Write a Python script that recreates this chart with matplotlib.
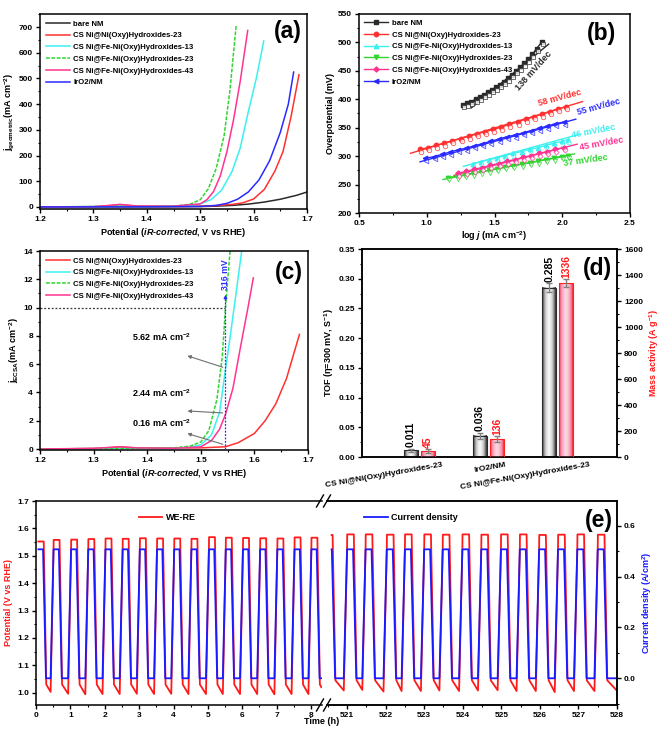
import numpy as np
import matplotlib
matplotlib.use('Agg')
import matplotlib.pyplot as plt
from matplotlib.colors import LinearSegmentedColormap
from matplotlib.patches import Rectangle
from matplotlib.lines import Line2D
from matplotlib.ticker import MultipleLocator, FormatStrFormatter
import matplotlib.transforms as mtransforms

# ---------------- (a) LSV, geometric current density ----------------
a_bare_V = [1.20, 1.30, 1.40, 1.45, 1.50, 1.53, 1.56, 1.59, 1.62, 1.65, 1.68, 1.70]
a_bare_j = [0, 0.3, 0.6, 1.0, 1.5, 3, 6, 11, 19, 30, 45, 58]
a_nini_V = [1.20, 1.30, 1.33, 1.35, 1.37, 1.40, 1.45, 1.50, 1.53, 1.56, 1.58, 1.60, 1.62, 1.64, 1.655, 1.67, 1.685]
a_nini_j = [0, 1, 5, 9, 5, 2, 2, 3, 5, 10, 16, 31, 68, 140, 215, 350, 515]
a_fe13_V = [1.20, 1.33, 1.35, 1.40, 1.48, 1.50, 1.52, 1.54, 1.56, 1.575, 1.59, 1.605, 1.619]
a_fe13_j = [0, 2, 3, 2, 5, 12, 28, 65, 140, 230, 370, 500, 646]
a_fe23_V = [1.20, 1.33, 1.35, 1.40, 1.45, 1.48, 1.50, 1.515, 1.53, 1.545, 1.556, 1.5675]
a_fe23_j = [0, 2, 3, 2, 3, 10, 28, 70, 150, 280, 460, 710]
a_fe43_V = [1.20, 1.30, 1.33, 1.35, 1.38, 1.45, 1.50, 1.5125, 1.525, 1.5375, 1.55, 1.5625, 1.575, 1.589]
a_fe43_j = [0, 1, 6, 10, 4, 3, 12, 28, 60, 120, 215, 340, 490, 687]
a_iro2_V = [1.20, 1.40, 1.50, 1.53, 1.55, 1.57, 1.59, 1.61, 1.63, 1.65, 1.665, 1.675]
a_iro2_j = [0, 0.5, 2, 6, 14, 30, 58, 105, 180, 290, 400, 525]

# ---------------- (b) Tafel ----------------
b_bare_x = [1.27, 1.30, 1.33, 1.36, 1.39, 1.42, 1.45, 1.48, 1.51, 1.54, 1.57, 1.60, 1.63, 1.66, 1.69, 1.72, 1.75, 1.78, 1.81, 1.85]
b_bare_y = [390, 393, 396, 400, 404, 408, 412, 417, 421, 426, 431, 437, 443, 450, 456, 463, 470, 479, 489, 501]
b_nini_x = [0.95, 1.01, 1.07, 1.13, 1.19, 1.25, 1.31, 1.37, 1.43, 1.49, 1.55, 1.61, 1.67, 1.73, 1.79, 1.85, 1.91, 1.97, 2.03]
b_nini_y = [312, 315, 319, 323, 327, 331, 335, 339, 343, 347, 351, 356, 360, 365, 369, 374, 378, 383, 387]
b_fe13_x = [1.34, 1.40, 1.46, 1.52, 1.58, 1.64, 1.70, 1.76, 1.82, 1.88, 1.94, 2.00, 2.04]
b_fe13_y = [287, 290, 294, 297, 301, 305, 308, 312, 315, 319, 323, 326, 329]
b_fe23_x = [1.16, 1.22, 1.28, 1.34, 1.40, 1.46, 1.52, 1.58, 1.64, 1.70, 1.76, 1.82, 1.88, 1.94, 2.00, 2.04]
b_fe23_y = [262, 265, 267, 270, 273, 275, 278, 281, 283, 286, 288, 291, 294, 296, 299, 301]
b_fe43_x = [1.23, 1.29, 1.35, 1.41, 1.47, 1.53, 1.59, 1.65, 1.71, 1.77, 1.83, 1.89, 1.95, 2.01]
b_fe43_y = [270, 273, 277, 280, 284, 287, 291, 294, 298, 301, 305, 308, 312, 315]
b_iro2_x = [0.99, 1.05, 1.11, 1.17, 1.23, 1.29, 1.35, 1.41, 1.47, 1.53, 1.59, 1.65, 1.71, 1.77, 1.83, 1.89, 1.95, 2.01]
b_iro2_y = [296, 299, 303, 307, 311, 314, 318, 322, 326, 330, 334, 337, 341, 345, 349, 353, 357, 360]
# fitted lines (end points)
b_fit_bare = ([1.33, 1.90], [385, 497])
b_fit_nini = ([0.88, 2.15], [305, 396])
b_fit_fe13 = ([1.27, 2.12], [282, 338])
b_fit_fe23 = ([1.12, 2.09], [259, 304])
b_fit_fe43 = ([1.20, 2.11], [266, 321])
b_fit_iro2 = ([0.95, 2.10], [290, 365])
b_slopes = ['138 mV/dec', '58 mV/dec', '55 mV/dec', '46 mV/dec', '45 mV/dec', '37 mV/dec']

# ---------------- (c) LSV, ECSA normalised ----------------
c_nini_V = [1.20, 1.30, 1.33, 1.35, 1.37, 1.40, 1.50, 1.546, 1.57, 1.60, 1.62, 1.64, 1.66, 1.684]
c_nini_j = [0.0, 0.03, 0.10, 0.16, 0.10, 0.06, 0.08, 0.16, 0.45, 1.1, 2.0, 3.2, 5.0, 8.1]
c_fe13_V = [1.20, 1.35, 1.45, 1.48, 1.50, 1.52, 1.535, 1.546, 1.555, 1.565, 1.577]
c_fe13_j = [0.0, 0.05, 0.05, 0.12, 0.3, 1.0, 2.6, 5.62, 8.0, 10.8, 14.2]
c_fe23_V = [1.20, 1.35, 1.45, 1.48, 1.50, 1.515, 1.53, 1.54, 1.546, 1.555]
c_fe23_j = [0.0, 0.05, 0.08, 0.2, 0.5, 1.3, 3.5, 6.5, 10.0, 14.2]
c_fe43_V = [1.20, 1.30, 1.35, 1.38, 1.45, 1.50, 1.52, 1.535, 1.546, 1.56, 1.575, 1.588, 1.598]
c_fe43_j = [0.0, 0.05, 0.15, 0.08, 0.05, 0.15, 0.6, 1.4, 2.44, 4.3, 7.4, 10.0, 12.1]
c_eta_V = 1.546
c_marks = [5.62, 2.44, 0.16]

# ---------------- (d) TOF / mass activity ----------------
d_categories = ['CS Ni@Ni(Oxy)Hydroxides-23', 'IrO2/NM', 'CS Ni@Fe-Ni(Oxy)Hydroxides-23']
d_tof = [0.011, 0.036, 0.285]
d_tof_err = [0.003, 0.005, 0.007]
d_mass = [45, 136, 1336]
d_mass_err = [15, 22, 32]

# ---------------- (e) stability, cycle data ----------------
e_left_starts = [0.05, 0.51, 1.02, 1.52, 2.02, 2.52, 3.02, 3.52, 4.02, 4.52, 5.03, 5.52, 6.02, 6.52, 7.02, 7.52, 8.01]
e_left_peaks = [1.552, 1.558, 1.559, 1.561, 1.563, 1.562, 1.564, 1.563, 1.563, 1.562, 1.568, 1.566, 1.565, 1.564, 1.563, 1.567, 1.566]
e_left_mins = [1.0, 1.003, 0.996, 0.994, 0.995, 0.995, 0.996, 0.995, 0.996, 0.995, 0.995, 0.995, 0.995, 0.995, 0.994, 0.995, 0.995, 1.02]
e_right_starts = [520.45, 521.0, 521.48, 522.03, 522.5, 523.0, 523.48, 523.99, 524.48, 524.99, 525.48, 525.98, 526.47, 526.97, 527.5]
e_right_peaks = [1.576, 1.578, 1.578, 1.577, 1.578, 1.578, 1.577, 1.578, 1.577, 1.578, 1.578, 1.576, 1.577, 1.578, 1.577]
e_right_mins = [1.01, 1.008, 1.01, 1.004, 1.006, 1.006, 1.008, 1.006, 1.008, 1.009, 1.006, 1.006, 1.002, 1.006, 1.006, 1.007]
e_i_high = 0.507

# ---------------- style ----------------
plt.rcParams.update({
    'font.family': ['Liberation Sans', 'DejaVu Sans'],
    'font.weight': 'bold', 'font.size': 6,
    'axes.labelweight': 'bold', 'axes.linewidth': 1.1, 'axes.labelsize': 6.5,
    'mathtext.fontset': 'custom', 'mathtext.rm': 'Liberation Sans:bold',
    'mathtext.it': 'Liberation Sans:italic:bold', 'mathtext.bf': 'Liberation Sans:bold',
    'mathtext.default': 'rm',
    'xtick.direction': 'out', 'ytick.direction': 'out',
    'xtick.major.size': 3, 'ytick.major.size': 3, 'xtick.minor.size': 1.6, 'ytick.minor.size': 1.6,
    'xtick.major.width': 1, 'ytick.major.width': 1, 'xtick.minor.width': 0.8, 'ytick.minor.width': 0.8,
    'xtick.labelsize': 6, 'ytick.labelsize': 6,
    'xtick.major.pad': 2, 'ytick.major.pad': 2,
    'legend.frameon': False, 'legend.fontsize': 5.6,
})

C_BARE = '#2a2a2a'
C_RED = '#ff3030'
C_CYAN = '#3cf0f0'
C_GREEN = '#30d530'
C_PINK = '#ff3390'
C_BLUE = '#2a2aff'

W, H = 661, 731
fig = plt.figure(figsize=(W / 100, H / 100), dpi=100)


def box(l, t, r, b):
    return [l / W, 1 - b / H, (r - l) / W, (b - t) / H]


ax_a = fig.add_axes(box(40, 14, 307, 209))
ax_b = fig.add_axes(box(359, 14, 630, 213))
ax_c = fig.add_axes(box(40, 251, 308, 450))
ax_d = fig.add_axes(box(362, 249, 617, 457))
ax_e1 = fig.add_axes(box(36, 501, 322, 705))
ax_e2 = fig.add_axes(box(327, 501, 617, 705))

lw = 1.1
dash = (0, (2.5, 1))
xlab = 'Potential ($\\mathit{iR}$-$\\mathit{corrected}$, V vs RHE)'

# ---------------- (a) ----------------
ax_a.plot(a_bare_V, a_bare_j, color=C_BARE, lw=lw, label='bare NM')
ax_a.plot(a_nini_V, a_nini_j, color=C_RED, lw=lw, label='CS Ni@Ni(Oxy)Hydroxides-23')
ax_a.plot(a_fe13_V, a_fe13_j, color=C_CYAN, lw=lw, label='CS Ni@Fe-Ni(Oxy)Hydroxides-13')
ax_a.plot(a_fe23_V, a_fe23_j, color=C_GREEN, lw=lw, ls=dash, label='CS Ni@Fe-Ni(Oxy)Hydroxides-23')
ax_a.plot(a_fe43_V, a_fe43_j, color=C_PINK, lw=lw, label='CS Ni@Fe-Ni(Oxy)Hydroxides-43')
ax_a.plot(a_iro2_V, a_iro2_j, color=C_BLUE, lw=lw, label='IrO2/NM')
ax_a.set_xlim(1.2, 1.7)
ax_a.set_ylim(-8, 751)
ax_a.xaxis.set_major_locator(MultipleLocator(0.1))
ax_a.xaxis.set_minor_locator(MultipleLocator(0.05))
ax_a.yaxis.set_major_locator(MultipleLocator(100))
ax_a.yaxis.set_minor_locator(MultipleLocator(50))
ax_a.set_xlabel(xlab, labelpad=2)
ax_a.set_ylabel('j$_{geometric}$(mA cm$^{-2}$)', labelpad=2)
ax_a.legend(loc='upper left', bbox_to_anchor=(0.0, 1.0), handlelength=3.0, labelspacing=0.55,
            handletextpad=0.5, borderaxespad=0.4)
ax_a.text(0.98, 0.97, '(a)', transform=ax_a.transAxes, ha='right', va='top', fontsize=16.5, fontweight='bold')

# ---------------- (b) ----------------
ms = 3.2
series_b = [
    (b_bare_x, b_bare_y, b_fit_bare, C_BARE, 's', 'bare NM'),
    (b_nini_x, b_nini_y, b_fit_nini, C_RED, 'o', 'CS Ni@Ni(Oxy)Hydroxides-23'),
    (b_fe13_x, b_fe13_y, b_fit_fe13, C_CYAN, '^', 'CS Ni@Fe-Ni(Oxy)Hydroxides-13'),
    (b_fe23_x, b_fe23_y, b_fit_fe23, C_GREEN, 'v', 'CS Ni@Fe-Ni(Oxy)Hydroxides-23'),
    (b_fe43_x, b_fe43_y, b_fit_fe43, C_PINK, 'D', 'CS Ni@Fe-Ni(Oxy)Hydroxides-43'),
    (b_iro2_x, b_iro2_y, b_fit_iro2, C_BLUE, '<', 'IrO2/NM'),
]
for x, y, fit, col, mk, lab in series_b:
    ax_b.plot(fit[0], fit[1], color=col, lw=1.0, zorder=2)
    ax_b.plot(x, y, color=col, lw=1.0, marker=mk, ms=ms if mk != 'D' else 2.6, mfc=col, mec=col,
              label=lab, zorder=3)
    ax_b.plot(x, y, color='none', marker=mk, ms=ms if mk != 'D' else 2.6, mfc='white', mec=col,
              mew=0.6, zorder=3, alpha=0.8,
              transform=ax_b.transData + mtransforms.ScaledTranslation(0.01, -0.025, fig.dpi_scale_trans))
ax_b.set_xlim(0.5, 2.5)
ax_b.set_ylim(200, 550)
ax_b.xaxis.set_major_locator(MultipleLocator(0.5))
ax_b.xaxis.set_minor_locator(MultipleLocator(0.25))
ax_b.yaxis.set_major_locator(MultipleLocator(50))
ax_b.yaxis.set_minor_locator(MultipleLocator(25))
ax_b.set_xlabel('log $\\mathit{j}$ (mA cm$^{-2}$)', labelpad=2)
ax_b.set_ylabel('Overpotential (mV)', labelpad=2)
ax_b.legend(loc='upper left', bbox_to_anchor=(0.0, 1.0), handlelength=3.0, labelspacing=0.55,
            handletextpad=0.5, borderaxespad=0.3)
ax_b.text(0.95, 0.96, '(b)', transform=ax_b.transAxes, ha='right', va='top', fontsize=16.5, fontweight='bold')
slope_pos = [(1.79, 450, 48, C_BARE), (1.98, 402, 15, C_RED), (2.27, 387, 15, C_BLUE),
             (2.23, 343, 11, C_CYAN), (2.29, 322, 10, C_PINK), (2.17, 292, 8, C_GREEN)]
for s, (x, y, r, col) in zip(b_slopes, slope_pos):
    ax_b.text(x, y, s, color=col, rotation=r, ha='center', va='center', fontsize=6.5, fontweight='bold')

# ---------------- (c) ----------------
ax_c.plot(c_nini_V, c_nini_j, color=C_RED, lw=lw, label='CS Ni@Ni(Oxy)Hydroxides-23')
ax_c.plot(c_fe13_V, c_fe13_j, color=C_CYAN, lw=lw, label='CS Ni@Fe-Ni(Oxy)Hydroxides-13')
ax_c.plot(c_fe23_V, c_fe23_j, color=C_GREEN, lw=lw, ls=dash, label='CS Ni@Fe-Ni(Oxy)Hydroxides-23')
ax_c.plot(c_fe43_V, c_fe43_j, color=C_PINK, lw=lw, label='CS Ni@Fe-Ni(Oxy)Hydroxides-43')
ax_c.set_xlim(1.2, 1.7)
ax_c.set_ylim(-0.07, 14)
ax_c.xaxis.set_major_locator(MultipleLocator(0.1))
ax_c.xaxis.set_minor_locator(MultipleLocator(0.05))
ax_c.yaxis.set_major_locator(MultipleLocator(2))
ax_c.yaxis.set_minor_locator(MultipleLocator(1))
ax_c.set_xlabel(xlab, labelpad=2)
ax_c.set_ylabel('j$_{ECSA}$(mA cm$^{-2}$)', labelpad=2)
ax_c.legend(loc='upper left', bbox_to_anchor=(0.0, 1.0), handlelength=3.0, labelspacing=0.55,
            handletextpad=0.5, borderaxespad=0.4)
ax_c.text(0.98, 0.95, '(c)', transform=ax_c.transAxes, ha='right', va='top', fontsize=16.5, fontweight='bold')
ax_c.plot([1.2, c_eta_V], [10, 10], color='#333333', lw=0.9, ls=(0, (1.5, 1.5)), zorder=1)
ax_c.plot([c_eta_V, c_eta_V], [0, 10.6], color='#2a2aff', lw=0.9, ls=(0, (1.5, 1.2)), zorder=5)
ax_c.annotate('', xy=(c_eta_V, 11.1), xytext=(c_eta_V, 10.4),
              arrowprops=dict(arrowstyle='-|>', color='#2a2aff', lw=0.8, mutation_scale=5), zorder=5)
ax_c.text(c_eta_V, 12.35, '316 mV', rotation=90, color='#2a2aff', ha='center', va='center',
          fontsize=6.3, fontweight='bold')
for val, ty in zip(c_marks, [7.9, 3.95, 1.85]):
    ax_c.annotate('', xy=(1.47, ty - 1.25 + (0.0 if val > 1 else 0.55)), xytext=(c_eta_V, val + (0.1 if val > 1 else 0.12)),
                  arrowprops=dict(arrowstyle='-|>', color='#707070', lw=0.8, mutation_scale=5))
    ax_c.text(1.427, ty, f'{val:.2f} mA cm$^{{-2}}$', ha='center', va='center', fontsize=6.5, fontweight='bold')

# ---------------- (d) ----------------
gray_cmap = LinearSegmentedColormap.from_list('g', ['#f6f6f6', '#c8c8c8', '#7a7a7a', '#2a2a2a'])
pink_cmap = LinearSegmentedColormap.from_list('p', ['#fcd6e0', '#f7a9bf', '#f27a9c', '#ff2020'])
prof = np.abs(np.linspace(-1, 1, 81)) ** 1.6
pos = np.arange(1, len(d_categories) + 1)
bw = 0.2
x_gray = pos - 0.122
x_pink = pos + 0.125
ax_d2 = ax_d.twinx()
for i in range(len(pos)):
    for ax, xc, h, cm, ec in [(ax_d, x_gray[i], d_tof[i], gray_cmap, '#2a2a2a'),
                              (ax_d2, x_pink[i], d_mass[i], pink_cmap, '#ff2020')]:
        ax.imshow(prof[None, :], extent=[xc - bw / 2, xc + bw / 2, 0, h], aspect='auto', cmap=cm,
                  vmin=0, vmax=1, origin='lower', zorder=2, interpolation='bilinear')
        ax.add_patch(Rectangle((xc - bw / 2, 0), bw, h, fill=False, edgecolor=ec, lw=0.8, zorder=3))
ax_d.errorbar(x_gray, d_tof, yerr=d_tof_err, fmt='none', ecolor='#808080', elinewidth=1, capsize=2,
              capthick=1, zorder=4)
ax_d2.errorbar(x_pink, d_mass, yerr=d_mass_err, fmt='none', ecolor='#808080', elinewidth=1, capsize=2,
               capthick=1, zorder=4)
for i in range(len(pos)):
    ax_d.text(x_gray[i], d_tof[i] + d_tof_err[i] + 0.003, f'{d_tof[i]:.3f}', rotation=90, ha='center',
              va='bottom', fontsize=7.5, fontweight='bold', color='black')
    ax_d2.text(x_pink[i], d_mass[i] + d_mass_err[i] + 12, f'{d_mass[i]:d}', rotation=90, ha='center',
               va='bottom', fontsize=7.5, fontweight='bold', color='#ff1a1a')
for ax in (ax_d, ax_d2):
    ax.set_xlim(0.17, 3.86)
ax_d.set_ylim(0, 0.35)
ax_d2.set_ylim(0, 1600)
ax_d.set_xticks([])
ax_d.yaxis.set_major_locator(MultipleLocator(0.05))
ax_d.yaxis.set_minor_locator(MultipleLocator(0.025))
ax_d.yaxis.set_major_formatter(FormatStrFormatter('%.2f'))
ax_d2.yaxis.set_major_locator(MultipleLocator(200))
ax_d2.yaxis.set_minor_locator(MultipleLocator(100))
ax_d.set_ylabel('TOF (η=300 mV, S$^{-1}$)', labelpad=2)
ax_d2.set_ylabel('Mass activity (A g$^{-1}$)', color='#ff1a1a', labelpad=3)
trans_d = mtransforms.blended_transform_factory(ax_d.transData, ax_d.transAxes)
for p, lab, off in zip(pos, d_categories, [0.33, 0.25, 0.45]):
    ax_d.text(p + off, -0.02, lab, transform=trans_d, rotation=10, rotation_mode='anchor',
              ha='right', va='top', fontsize=6, fontweight='bold')
ax_d.text(0.98, 0.96, '(d)', transform=ax_d.transAxes, ha='right', va='top', fontsize=16.5, fontweight='bold')

# ---------------- (e) ----------------
RISE, PLAT, FALL = 0.085, 0.155, 0.085


def build_wave(starts, peaks, mins, low_v, t_begin, t_end):
    tb, ib, tr, vr = [], [], [], []
    for k, s in enumerate(starts):
        rs, pe, ls = s - RISE, s + PLAT, s + PLAT + FALL
        tb += [rs, s, pe, ls]
        ib += [0.0, e_i_high, e_i_high, 0.0]
        tr += [rs, s, s + 0.004, pe + 0.02, ls + 0.008]
        vr += [mins[k], 1.52, peaks[k], peaks[k], low_v]
    tb.append(t_end); ib.append(0.0)
    tr.append(t_end); vr.append(mins[-1])
    out = []
    for t, y in ((tb, ib), (tr, vr)):
        t = np.asarray(t); y = np.asarray(y)
        y0 = np.interp(t_begin, t, y)
        m = t > t_begin
        out.append((np.r_[t_begin, t[m]], np.r_[y0, y[m]]))
    return out


RED_E = '#ff1a1a'
BLUE_E = '#1a1aff'
(lb_t, lb_i), (lr_t, lr_v) = build_wave(e_left_starts, e_left_peaks, e_left_mins, 1.03, 0.07, 8.3)
(rb_t, rb_i), (rr_t, rr_v) = build_wave(e_right_starts, e_right_peaks, e_right_mins, 1.045, 520.6, 528.0)

E_VLIM = (0.955, 1.7)
E_ILIM = (-0.105, 0.697)

ax_e1.plot(lr_t, lr_v, color=RED_E, lw=1.3, label='WE-RE')
ax_e1b = ax_e1.twinx()
ax_e1b.plot(lb_t, lb_i, color=BLUE_E, lw=1.3)
ax_e1.set_xlim(0, 8.32)
ax_e1.set_ylim(*E_VLIM)
ax_e1b.set_ylim(*E_ILIM)
ax_e1b.axis('off')
ax_e1.spines['right'].set_visible(False)
ax_e1.xaxis.set_major_locator(MultipleLocator(1))
ax_e1.xaxis.set_minor_locator(MultipleLocator(0.5))
ax_e1.yaxis.set_major_locator(MultipleLocator(0.1))
ax_e1.yaxis.set_minor_locator(MultipleLocator(0.05))
ax_e1.yaxis.set_major_formatter(FormatStrFormatter('%.1f'))
ax_e1.set_ylabel('Potential (V vs RHE)', color=RED_E, labelpad=3)
ax_e1.legend(loc='center left', bbox_to_anchor=(0.33, 0.917), handlelength=2.6, handletextpad=0.4,
             fontsize=6.5)

ax_e2.plot(rr_t, rr_v, color=RED_E, lw=1.3)
ax_e2b = ax_e2.twinx()
ax_e2b.plot(rb_t, rb_i, color=BLUE_E, lw=1.3, label='Current density')
ax_e2.set_xlim(520.48, 528.0)
ax_e2.set_ylim(*E_VLIM)
ax_e2b.set_ylim(*E_ILIM)
ax_e2.spines['left'].set_visible(False)
ax_e2b.spines['left'].set_visible(False)
ax_e2.tick_params(axis='y', left=False, labelleft=False, which='both')
ax_e2.xaxis.set_major_locator(MultipleLocator(1))
ax_e2.xaxis.set_minor_locator(MultipleLocator(0.5))
ax_e2b.yaxis.set_major_locator(MultipleLocator(0.2))
ax_e2b.yaxis.set_minor_locator(MultipleLocator(0.1))
ax_e2b.yaxis.set_major_formatter(FormatStrFormatter('%.1f'))
ax_e2b.set_ylabel('Current density (A/cm$^{2}$)', color=BLUE_E, labelpad=3)
ax_e2b.legend(loc='center left', bbox_to_anchor=(0.1, 0.917), handlelength=2.6, handletextpad=0.4,
              fontsize=6.5)
ax_e2.text(0.985, 0.96, '(e)', transform=ax_e2.transAxes, ha='right', va='top', fontsize=16.5,
           fontweight='bold')

# break marks
for yb in (501, 705):
    for xc in (320, 327):
        fig.add_artist(Line2D([(xc - 3.5) / W, (xc + 3.5) / W], [1 - (yb + 6) / H, 1 - (yb - 6) / H],
                              color='black', lw=1.0))
fig.text(322 / W, 1 - 722 / H, 'Time (h)', ha='center', va='center', fontsize=6.5, fontweight='bold')

fig.savefig('out.png', dpi=100)
